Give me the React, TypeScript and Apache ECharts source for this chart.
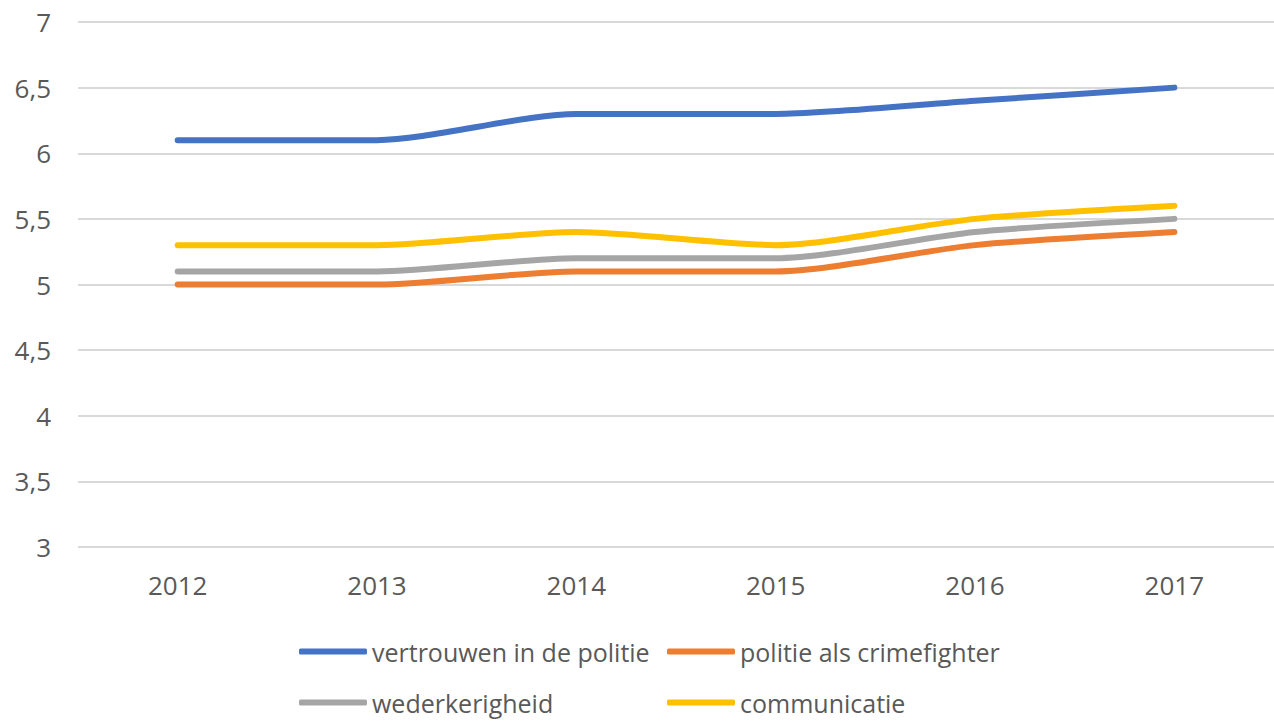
import React, { useEffect, useRef } from "react";
import * as echarts from "echarts";

const years = ["2012", "2013", "2014", "2015", "2016", "2017"];
const vertrouwen = [6.1, 6.1, 6.3, 6.3, 6.4, 6.5];
const crimefighter = [5.0, 5.0, 5.1, 5.1, 5.3, 5.4];
const wederkerigheid = [5.1, 5.1, 5.2, 5.2, 5.4, 5.5];
const communicatie = [5.3, 5.3, 5.4, 5.3, 5.5, 5.6];

const names = [
  "vertrouwen in de politie",
  "politie als crimefighter",
  "wederkerigheid",
  "communicatie",
];
const colors = ["#4472C4", "#ED7D31", "#A5A5A5", "#FFC000"];
const values = [vertrouwen, crimefighter, wederkerigheid, communicatie];

const FONT = "'Open Sans', 'Noto Sans', sans-serif";
const TEXT = "#595959";

export default function App() {
  const ref = useRef<HTMLDivElement>(null);
  useEffect(() => {
    document.body.style.margin = "0";
    document.body.style.overflow = "hidden";
    const chart = echarts.init(ref.current!, null, { renderer: "svg" });
    const legendPos = [
      { left: 294, top: 634 },
      { left: 662, top: 634 },
      { left: 294, top: 685 },
      { left: 662, top: 685 },
    ];
    chart.setOption({
      animation: false,
      backgroundColor: "#ffffff",
      color: colors,
      grid: { left: 78, right: -24, top: 22, bottom: 174, containLabel: false },
      legend: names.map((n, i) => ({
        ...legendPos[i],
        data: [n],
        icon: "roundRect",
        itemWidth: 68,
        itemHeight: 6,
        padding: [5, 5, 0, 5],
        textStyle: {
          fontFamily: FONT,
          fontSize: 25,
          color: TEXT,
          lineHeight: 24,
        },
      })),
      xAxis: {
        type: "category",
        data: years,
        boundaryGap: true,
        axisLine: { show: false },
        axisTick: { show: false },
        axisLabel: {
          fontFamily: FONT,
          fontSize: 26,
          color: TEXT,
          margin: 25,
        },
      },
      yAxis: {
        type: "value",
        min: 3,
        max: 7,
        interval: 0.5,
        axisLine: { show: false },
        axisTick: { show: false },
        axisLabel: {
          fontFamily: FONT,
          fontSize: 26,
          color: TEXT,
          margin: 27,
          formatter: (v: number) => String(v).replace(".", ","),
        },
        splitLine: { lineStyle: { color: "#D9D9D9", width: 2 } },
      },
      series: names.map((n, i) => ({
        name: n,
        type: "line",
        data: values[i],
        smooth: 0.25,
        showSymbol: false,
        symbol: "none",
        lineStyle: { width: 6, color: colors[i], cap: "round", join: "round" },
        itemStyle: { color: colors[i] },
        z: 10 - i,
      })),
    });
    return () => chart.dispose();
  }, []);
  return <div ref={ref} style={{ width: 1274, height: 721 }} />;
}
